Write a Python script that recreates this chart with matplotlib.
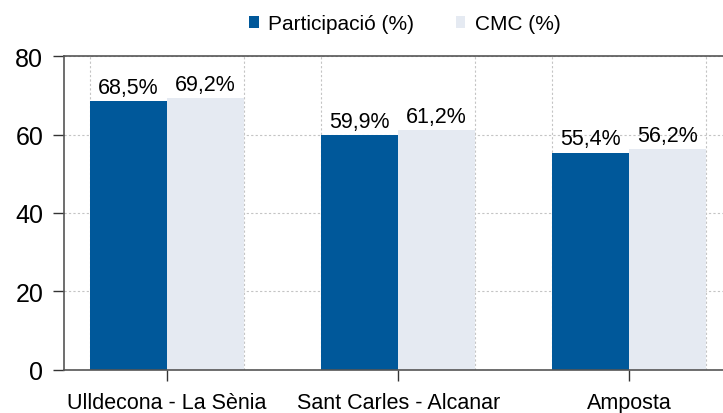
import numpy as np
import matplotlib.pyplot as plt
from matplotlib.ticker import MultipleLocator

plt.rcParams['font.family'] = ['Liberation Sans', 'DejaVu Sans']

# data
towns = ["Ulldecona - La Sènia", "Sant Carles - Alcanar", "Amposta"]
particip = [68.5, 59.9, 55.4]
cmc = [69.2, 61.2, 56.2]
series_names = ["Participació (%)", "CMC (%)"]

dark = "#00589A"
light = "#E5EAF2"

fig = plt.figure(figsize=(7.23, 4.14), dpi=100)
ax = fig.add_axes([0.0885, 0.1039, 0.913, 0.7584])

x = np.arange(len(towns))
w = 1 / 3
b1 = ax.bar(x - w / 2, particip, w, color=dark, label=series_names[0], zorder=2)
b2 = ax.bar(x + w / 2, cmc, w, color=light, label=series_names[1], zorder=2)

for bars, vals in [(b1, particip), (b2, cmc)]:
    for r, v in zip(bars, vals):
        ax.text(r.get_x() + r.get_width() / 2, v + 0.8, f"{v:.1f}%".replace(".", ","),
                ha="center", va="bottom", fontsize=15.5, zorder=3)

ax.set_ylim(0, 80)
ax.set_xlim(-0.446, 2.41)
ax.yaxis.set_major_locator(MultipleLocator(20))
ax.set_xticks(x)
ax.set_xticklabels(towns)
ax.xaxis.set_minor_locator(MultipleLocator(1 / 3))

ax.grid(axis="y", which="major", color="#c4c4c4", linestyle=(0, (2, 2)), linewidth=0.8, zorder=0)
ax.grid(axis="x", which="minor", color="#c4c4c4", linestyle=(0, (2, 2)), linewidth=0.8, zorder=0)
ax.set_axisbelow(True)

ax.tick_params(axis="y", labelsize=18, length=8, width=1, color="#333333", pad=7)
ax.tick_params(axis="x", which="major", labelsize=15.5, length=8, width=1, color="#333333", pad=7.5)
ax.tick_params(axis="x", which="minor", length=0)

for s in ["left", "top", "bottom"]:
    ax.spines[s].set_color("#555555")
    ax.spines[s].set_linewidth(1.2)
ax.spines["right"].set_visible(False)

fig.legend(handles=[b1, b2], labels=series_names, loc="center", bbox_to_anchor=(0.56, 0.94),
           ncol=2, frameon=False, fontsize=15, handlelength=0.45, handleheight=0.45,
           handletextpad=0.45, columnspacing=2.0)

fig.savefig("out.png", dpi=100)
